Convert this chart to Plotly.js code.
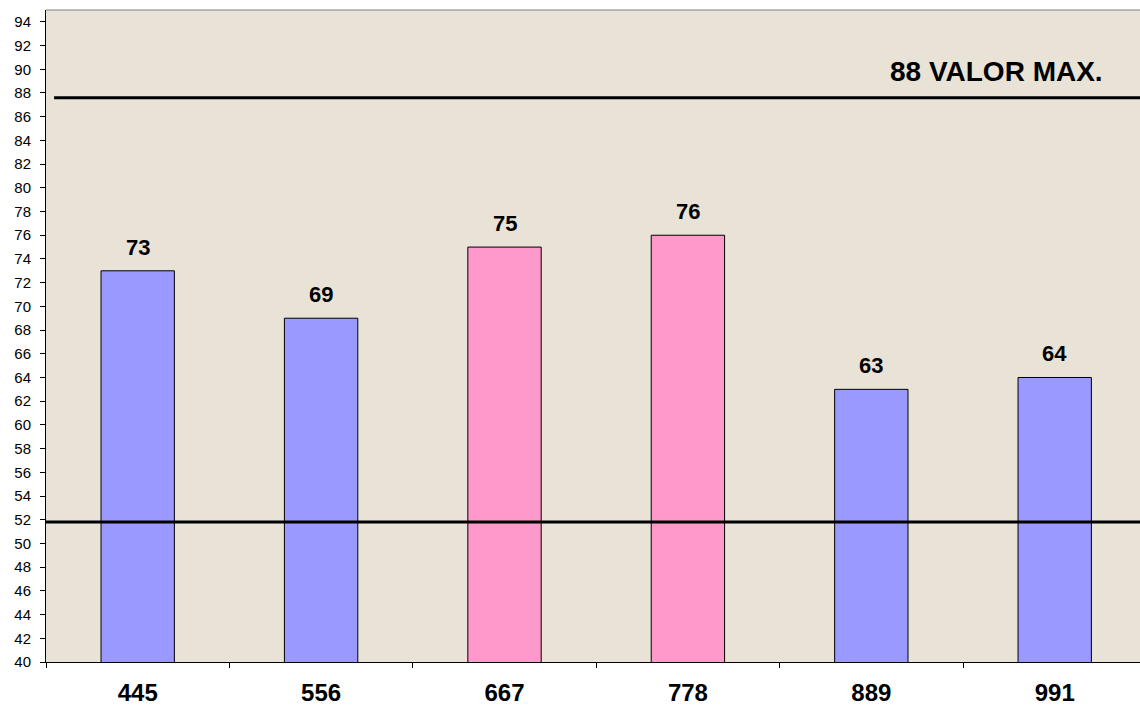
<!DOCTYPE html>
<html><head><meta charset="utf-8">
<script src="https://cdn.plot.ly/plotly-3.0.1.min.js"></script>
<style>html,body{margin:0;padding:0;overflow:hidden;background:#fff}</style>
</head><body><div id="chart" style="width:1140px;height:707px"></div>
<script>
const categories = ["445","556","667","778","889","991"];
const values = [73, 69, 75, 76, 63, 64];
const barColors = ["#9999FF","#9999FF","#FF99CC","#FF99CC","#9999FF","#9999FF"];
const maxLine = 87.6;
const minLine = 51.8;
const maxLabel = "88 VALOR MAX.";

const trace = {
  type: "bar", x: categories, y: values, width: 0.4,
  marker: {color: barColors, line: {color: "#000", width: 1}},
  hoverinfo: "none"
};
const annotations = categories.map((c, i) => ({
  x: i, y: values[i], xref: "x", yref: "y", text: "<b>" + values[i] + "</b>",
  showarrow: false, yanchor: "bottom", yshift: 9,
  font: {family: "Liberation Sans, Arial, sans-serif", size: 22, color: "#000"}
}));
annotations.push({
  x: 0.968, xref: "paper", y: 89.8, yref: "y", text: "<b>" + maxLabel + "</b>",
  showarrow: false, xanchor: "right", yanchor: "middle",
  font: {family: "Liberation Sans, Arial, sans-serif", size: 28, color: "#000"}
});
const layout = {
  width: 1140, height: 707,
  margin: {l: 46, r: 0, t: 10, b: 45},
  paper_bgcolor: "#ffffff", plot_bgcolor: "#E9E2D6",
  showlegend: false, bargap: 0.6,
  xaxis: {type: "category", range: [-0.5, 5.465], tickson: "boundaries",
    ticks: "outside", ticklen: 5, tickcolor: "#000", showline: true, linecolor: "#000", linewidth: 1,
    showgrid: false, zeroline: false, ticklabelstandoff: 9,
    tickfont: {family: "Liberation Sans, Arial, sans-serif", size: 24, color: "#000", weight: "bold"}},
  yaxis: {range: [40, 95], dtick: 2, tick0: 40, ticks: "outside", ticklen: 5, tickcolor: "#000",
    showline: true, linecolor: "#000", linewidth: 1, showgrid: false, zeroline: false,
    ticklabelstandoff: 6,
    tickfont: {family: "Liberation Sans, Arial, sans-serif", size: 15, color: "#000"}},
  shapes: [
    {type: "line", xref: "paper", yref: "paper", x0: 0, x1: 1, y0: 1, y1: 1, line: {color: "#808080", width: 1}},
    {type: "line", xref: "x", yref: "y", x0: -0.456, x1: 5.6, y0: maxLine, y1: maxLine, line: {color: "#000", width: 3}},
    {type: "line", xref: "x", yref: "y", x0: -0.5, x1: 5.6, y0: minLine, y1: minLine, line: {color: "#000", width: 3}}
  ],
  annotations: annotations
};
Plotly.newPlot("chart", [trace], layout, {staticPlot: true, displayModeBar: false});
</script></body></html>
